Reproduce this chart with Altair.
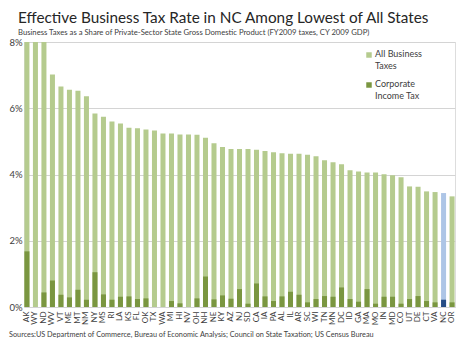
import altair as alt
import pandas as pd

states = ["AK", "WY", "ND", "WV", "VT", "ME", "MT", "NM", "NY", "MS", "RI", "LA", "KS", "FL",
          "OK", "TX", "WA", "MI", "HI", "NV", "OH", "NH", "NE", "KY", "AZ", "NJ", "SD", "CA",
          "IA", "PA", "AL", "IL", "AR", "SC", "WI", "TN", "MN", "DC", "ID", "GA", "MA", "MO",
          "IN", "MD", "CO", "UT", "DE", "CT", "VA", "NC", "OR"]
all_business = [11.7, 9.3, 8.6, 7.02, 6.66, 6.56, 6.53, 6.36, 5.84, 5.74, 5.60, 5.54, 5.41, 5.40,
                5.36, 5.33, 5.24, 5.24, 5.21, 5.21, 5.20, 5.11, 4.94, 4.83, 4.77, 4.77, 4.77, 4.75,
                4.71, 4.67, 4.64, 4.63, 4.63, 4.60, 4.55, 4.43, 4.37, 4.31, 4.13, 4.09, 4.06, 4.06,
                4.01, 3.98, 3.92, 3.64, 3.63, 3.49, 3.47, 3.44, 3.34]
corporate = [1.68, 0, 0.44, 0.80, 0.37, 0.29, 0.52, 0.22, 1.05, 0.38, 0.22, 0.31, 0.32, 0.24,
             0.26, 0, 0, 0.18, 0.11, 0, 0.26, 0.92, 0.23, 0.35, 0.25, 0.54, 0.10, 0.71,
             0.32, 0.18, 0.32, 0.46, 0.37, 0.14, 0.24, 0.33, 0.31, 0.59, 0.24, 0.16, 0.54, 0.10,
             0.31, 0.31, 0.10, 0.24, 0.33, 0.18, 0.14, 0.22, 0.14]
y_ticks = [0, 1, 2, 3, 4, 5, 6, 7, 8]
legend_labels = ["All Business\nTaxes", "Corporate\nIncome Tax"]
title_text = "Effective Business Tax Rate in NC Among Lowest of All States"
subtitle_text = "Business Taxes as a Share of Private-Sector State Gross Domestic Product (FY2009 taxes, CY 2009 GDP)"
source_text = "Sources:US Department of Commerce, Bureau of Economic Analysis; Council on State Taxation; US Census Bureau"

FONT = "Lato"
df = pd.DataFrame({"state": states, "all": all_business, "corp": corporate})

x = alt.X("state:N", sort=states,
          scale=alt.Scale(paddingInner=0.41, paddingOuter=0.05),
          axis=alt.Axis(title=None, labelAngle=-90, labelFontSize=8, labelColor="#404040",
                        labelPadding=4, ticks=False, domain=False, labelFont=FONT))
y_axis = alt.Axis(title=None, values=y_ticks,
                  labelExpr="datum.value % 2 == 0 ? datum.value + '%' : ''",
                  grid=True, gridColor="#d4d4d4", ticks=False, domain=False,
                  labelFontSize=9.5, labelPadding=2, labelColor="#404040", labelFont=FONT)

bars_all = alt.Chart(df).mark_bar(clip=True).encode(
    x=x,
    y=alt.Y("all:Q", scale=alt.Scale(domain=[0, 8], nice=False), axis=y_axis),
    color=alt.when(alt.datum.state == "NC").then(alt.value("#adc5e6")).otherwise(alt.value("#b5cb8e")),
)
bars_corp = alt.Chart(df).mark_bar(clip=True).encode(
    x=x,
    y=alt.Y("corp:Q"),
    color=alt.when(alt.datum.state == "NC").then(alt.value("#264d85")).otherwise(alt.value("#7a9640")),
)

LX = 345
leg_df1 = pd.DataFrame({"label": [legend_labels[0]]})
leg_df2 = pd.DataFrame({"label": [legend_labels[1]]})
sq1 = alt.Chart(leg_df1).mark_square(size=30, color="#b5cb8e", opacity=1).encode(
    x=alt.value(LX), y=alt.value(13))
sq2 = alt.Chart(leg_df2).mark_square(size=30, color="#7a9640", opacity=1).encode(
    x=alt.value(LX), y=alt.value(43))
tx1 = alt.Chart(leg_df1).mark_text(align="left", baseline="top", lineBreak="\n", lineHeight=12.5,
                                   fontSize=9, font=FONT, color="#404040").encode(
    x=alt.value(LX + 6), y=alt.value(7.5), text="label:N")
tx2 = alt.Chart(leg_df2).mark_text(align="left", baseline="top", lineBreak="\n", lineHeight=12.5,
                                   fontSize=9, font=FONT, color="#404040").encode(
    x=alt.value(LX + 6), y=alt.value(37.5), text="label:N")

ttl = alt.Chart(pd.DataFrame({"t": [title_text]})).mark_text(
    align="left", baseline="alphabetic", fontSize=15.3, font=FONT, color="#262626").encode(
    x=alt.value(-6), y=alt.value(-19), text="t:N")
sub = alt.Chart(pd.DataFrame({"t": [subtitle_text]})).mark_text(
    align="left", baseline="alphabetic", fontSize=7.7, font=FONT, color="#404040").encode(
    x=alt.value(-6), y=alt.value(-7), text="t:N")
src = alt.Chart(pd.DataFrame({"t": [source_text]})).mark_text(
    align="left", baseline="alphabetic", fontSize=7.3, font=FONT, color="#404040").encode(
    x=alt.value(-15), y=alt.value(295), text="t:N")

chart = alt.layer(bars_all, bars_corp, sq1, sq2, tx1, tx2, ttl, sub, src).properties(
    width=431, height=265,
    autosize=alt.AutoSizeParams(type="none"),
    padding={"left": 16, "top": 34, "right": 10, "bottom": 35},
).configure_view(stroke=None).configure(background="white")

chart.save("out.html", embed_options={"renderer": "svg", "actions": False})
